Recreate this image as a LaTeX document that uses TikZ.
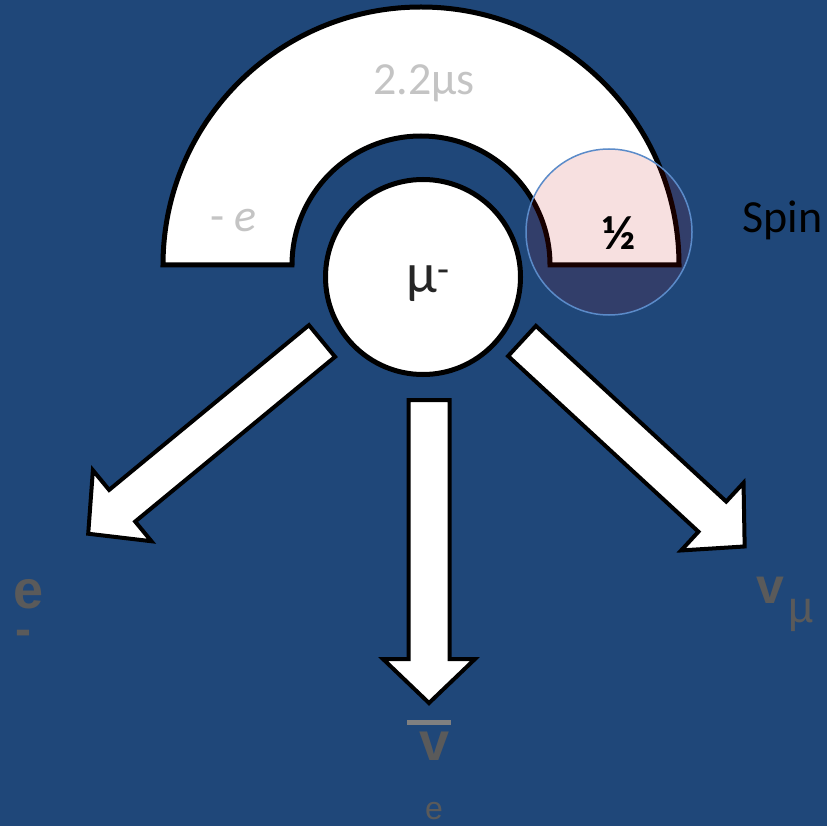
\documentclass[tikz,border=0pt]{standalone}
\usepackage{fontspec}
\setmainfont{Carlito}
\newfontfamily\arialf{Liberation Sans}
\usetikzlibrary{positioning,calc}
\definecolor{BgBlue}{HTML}{1F4779}
\definecolor{LightGray}{HTML}{C4C4C4}
\definecolor{DarkGray}{HTML}{5A5A5A}
\definecolor{BarGray}{HTML}{808080}
\definecolor{MuText}{HTML}{262626}
\definecolor{SpinRed}{HTML}{C00000}
\definecolor{SpinEdge}{HTML}{5B8BC9}
\tikzset{
  outl/.style={draw=black,line width=5pt,fill=white},
  lbl/.style={inner sep=0pt,font=\fontsize{#1}{#1}\selectfont},
  lblb/.style={inner sep=0pt,font=\bfseries\fontsize{#1}{#1}\selectfont},
  ptcl/.style={inner sep=0pt,text=DarkGray,font=\arialf\fontsize{#1}{#1}\selectfont},
  ptclb/.style={inner sep=0pt,text=DarkGray,font=\arialf\bfseries\fontsize{#1}{#1}\selectfont}}
\newcommand{\decayarrow}[3]{%
  \begin{scope}[shift={(#1,#2)},rotate=#3]
    \draw[outl,line width=4pt] (0,-20.5) -- (259,-20.5) -- (259,-46) -- (303,0)
      -- (259,46) -- (259,20.5) -- (0,20.5) -- cycle;
  \end{scope}}

\begin{document}
\begin{tikzpicture}[x=1pt,y=1pt]
  \fill[BgBlue](0,0) rectangle (827,-826);
  \useasboundingbox (0,0) rectangle (827,-826);
  % half ring
  \draw[outl](163,-265) arc[start angle=180,end angle=0,radius=258]
    -- (550,-265) arc[start angle=0,end angle=180,radius=129] -- cycle;
  \node[lbl=46,text=LightGray,anchor=base] (life) at (424,-95) {2.2µs};
  \node[lbl=46,text=LightGray,anchor=base west] (charge) at (210,-232) {- \textit{e}};
  % muon
  \node[outl,circle,minimum size=195pt,inner sep=0pt] (muon) at (423,-277) {};
  \node[lbl=56,text=MuText,anchor=base] (mulbl) at (428,-292) {µ\textsuperscript{-}};
  % spin
  \node[circle,minimum size=166pt,inner sep=0pt,fill=SpinRed,fill opacity=0.12,
    draw=SpinEdge,line width=1.5pt] (spin) at (609,-232) {};
  \node[lblb=48,anchor=base] (half) at (619,-250) {½};
  \node[lbl=46,anchor=base west] (spinlbl) at (742,-233) {Spin};
  % Arrows
  \decayarrow{322}{-341}{219.5}
  \decayarrow{429}{-400}{-90}
  \decayarrow{522}{-341}{-42.7}
  % products
  \node[ptclb=54,anchor=base] (elec) at (29,-608) {e};
  \node[ptclb=48,anchor=base] (elecm) at (23,-645) {-};
  \node[ptclb=54,anchor=base] (nuebar) at (435,-760) {v};
  \coordinate (barL) at (407,-722.5);
  \coordinate (barR) at (451,-722.5);
  \draw[BarGray,line width=5pt] (barL) -- (barR);
  \node[ptcl=32,anchor=base] (nuesub) at (434,-819) {e};
  \node[ptclb=50,anchor=base] (numu) at (770,-603) {v};
  \node[ptcl=44,anchor=base] (numusub) at (801,-622) {µ};
\end{tikzpicture}
\end{document}
